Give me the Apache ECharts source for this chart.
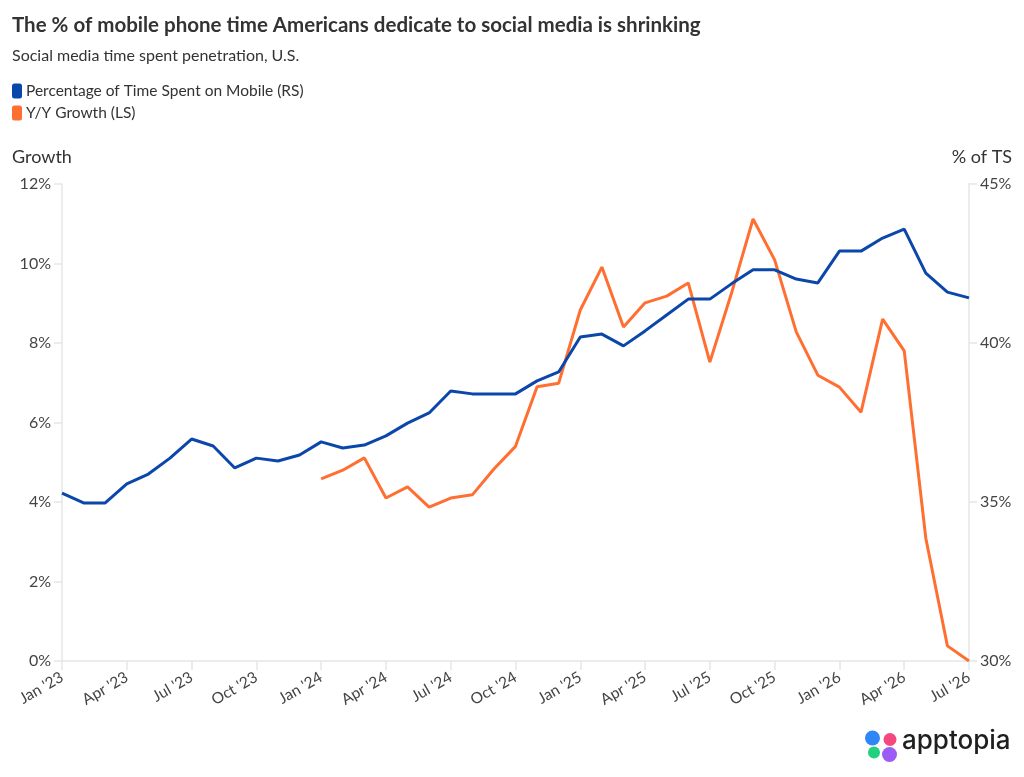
<!DOCTYPE html>
<html>
<head>
<meta charset="utf-8">
<title>Social media time spent penetration</title>
<style>
    html, body { margin: 0; padding: 0; background: #fff; }
    #main { width: 1024px; height: 777px; }
</style>
<script src="https://cdn.jsdelivr.net/npm/echarts@6/dist/echarts.min.js"></script>
</head>
<body>
<div id="main"></div>
<script>
// months Jan '23 .. Jul '26
var months = ["Jan '23","Feb '23","Mar '23","Apr '23","May '23","Jun '23","Jul '23","Aug '23","Sep '23","Oct '23","Nov '23","Dec '23",
    "Jan '24","Feb '24","Mar '24","Apr '24","May '24","Jun '24","Jul '24","Aug '24","Sep '24","Oct '24","Nov '24","Dec '24",
    "Jan '25","Feb '25","Mar '25","Apr '25","May '25","Jun '25","Jul '25","Aug '25","Sep '25","Oct '25","Nov '25","Dec '25",
    "Jan '26","Feb '26","Mar '26","Apr '26","May '26","Jun '26","Jul '26"];

// % of time spent on mobile (right axis)
var shareOfTime = [35.28,34.97,34.97,35.57,35.88,36.38,36.98,36.76,36.07,36.38,36.29,36.48,
    36.89,36.70,36.79,37.08,37.48,37.80,38.49,38.40,38.40,38.40,38.81,39.09,
    40.19,40.28,39.91,40.38,40.88,41.38,41.38,41.86,42.30,42.30,42.01,41.89,
    42.89,42.89,43.30,43.58,42.20,41.60,41.42];

// Y/Y growth (left axis), starts Jan '24
var yoyGrowth = [null,null,null,null,null,null,null,null,null,null,null,null,
    4.58,4.80,5.11,4.10,4.38,3.87,4.10,4.18,4.83,5.40,6.90,6.99,
    8.83,9.91,8.40,9.01,9.18,9.51,7.52,9.25,11.12,10.09,8.28,7.19,
    6.89,6.26,8.60,7.80,3.09,0.38,0.00];

var leftTicks = [0, 2, 4, 6, 8, 10, 12];
var rightTicks = [30, 35, 40, 45];

var blue = '#0b47aa';
var orange = '#ff6f31';
var txt = '#444';

var myChart = echarts.init(document.getElementById('main'));

var option = {
    backgroundColor: '#fff',
    textStyle: { fontFamily: 'Lato' },
    animation: false,
    title: [{
        text: 'The % of mobile phone time Americans dedicate to social media is shrinking',
        left: 7, top: 10,
        textStyle: { fontFamily: 'Lato', fontSize: 20.5, fontWeight: 'bold', color: '#333' }
    }, {
        text: 'Social media time spent penetration, U.S.',
        left: 7, top: 43,
        textStyle: { fontFamily: 'Lato', fontSize: 16, fontWeight: 'normal', color: '#333' }
    }],
    legend: {
        orient: 'vertical',
        left: 7, top: 78,
        itemWidth: 10, itemHeight: 15, itemGap: 6,
        icon: 'roundRect',
        textStyle: { fontFamily: 'Lato', fontSize: 15.5, color: '#333', padding: [0, 0, 0, -1] },
        data: ['Percentage of Time Spent on Mobile (RS)', 'Y/Y Growth (LS)']
    },
    grid: { left: 62, right: 55, top: 184, bottom: 116, containLabel: false },
    xAxis: {
        type: 'category',
        data: months,
        boundaryGap: false,
        axisLine: { lineStyle: { color: '#e6e6e6', width: 1.5 } },
        axisTick: { interval: 2, length: 9, lineStyle: { color: '#e6e6e6', width: 1.5 } },
        axisLabel: { interval: 2, rotate: 30, fontSize: 15.5, color: txt, margin: 15, fontFamily: 'Lato' },
        splitLine: { show: false }
    },
    yAxis: [{
        type: 'value',
        position: 'left',
        min: leftTicks[0], max: leftTicks[leftTicks.length - 1], interval: 2,
        axisLine: { show: true, lineStyle: { color: '#e6e6e6', width: 1.5 } },
        axisTick: { show: true, length: 8, lineStyle: { color: '#e6e6e6', width: 1.5 } },
        axisLabel: { formatter: '{value}%', fontSize: 16, color: txt, margin: 11, fontFamily: 'Lato' },
        splitLine: { show: false }
    }, {
        type: 'value',
        position: 'right',
        min: rightTicks[0], max: rightTicks[rightTicks.length - 1], interval: 5,
        axisLine: { show: true, lineStyle: { color: '#e6e6e6', width: 1.5 } },
        axisTick: { show: true, length: 8, lineStyle: { color: '#e6e6e6', width: 1.5 } },
        axisLabel: { formatter: '{value}%', fontSize: 16, color: txt, margin: 11, fontFamily: 'Lato' },
        splitLine: { show: false }
    }],
    series: [{
        name: 'Percentage of Time Spent on Mobile (RS)',
        type: 'line',
        yAxisIndex: 1,
        data: shareOfTime,
        symbol: 'none',
        color: blue,
        lineStyle: { width: 3, color: blue },
        z: 3
    }, {
        name: 'Y/Y Growth (LS)',
        type: 'line',
        yAxisIndex: 0,
        data: yoyGrowth,
        symbol: 'none',
        color: orange,
        lineStyle: { width: 3, color: orange },
        z: 2
    }],
    graphic: [
        { type: 'text', left: 12, top: 148, style: { text: 'Growth', font: '18px Lato', fill: '#333' } },
        { type: 'text', right: 12, top: 148, style: { text: '% of TS', font: '18px Lato', fill: '#333' } },
        // apptopia logo
        { type: 'circle', shape: { cx: 872.5, cy: 738, r: 7.5 }, style: { fill: '#2f86f6' } },
        { type: 'circle', shape: { cx: 890, cy: 739.5, r: 6.5 }, style: { fill: '#f5487f' } },
        { type: 'circle', shape: { cx: 874, cy: 752.5, r: 6 }, style: { fill: '#22d17d' } },
        { type: 'circle', shape: { cx: 889.5, cy: 754.5, r: 7.5 }, style: { fill: '#9d5cf7' } },
        { type: 'text', left: 902, top: 728, style: { text: 'apptopia', font: '500 26px Inter', fill: '#1f1f1f' } }
    ]
};

myChart.setOption(option);
</script>
</body>
</html>
